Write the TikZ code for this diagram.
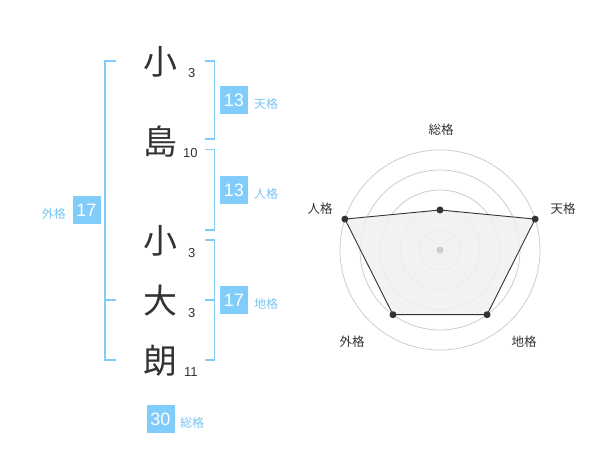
\documentclass[tikz,border=0pt]{standalone}
\usepackage{fontspec}
\usetikzlibrary{calc}
\setmainfont{Liberation Sans}
\newfontfamily\jp{Noto Sans CJK JP}
\definecolor{blu}{RGB}{128,204,250}
\definecolor{lbl}{RGB}{120,196,240}
\definecolor{ink}{RGB}{51,51,51}
\definecolor{ring}{RGB}{204,204,204}
\definecolor{area}{RGB}{240,240,240}
\tikzset{
  kanji/.style={font=\jp\fontsize{34}{34}\selectfont, text=ink, inner sep=0pt},
  strokes/.style={font=\fontsize{13}{13}\selectfont, text=ink, inner sep=0pt, anchor=west},
  box/.style={fill=blu, text=white, minimum size=28pt, inner sep=0pt, font=\fontsize{18}{18}\selectfont},
  lab/.style={font=\jp\fontsize{12}{12}\selectfont, text=lbl, inner sep=0pt},
  brk/.style={draw=blu, line width=1.5pt},
  radlab/.style={font=\jp\fontsize{12.5}{12.5}\selectfont, text=ink, inner sep=0pt},
  dot/.style={circle, fill=ink, minimum size=7pt, inner sep=0pt},
}
\begin{document}
\begin{tikzpicture}[x=1pt,y=-1pt]
\useasboundingbox (0,0) rectangle (600,470);
% name characters
\node[kanji] (c1) at (160,62) {小};
\node[kanji] (c2) at (160,142) {島};
\node[kanji] (c3) at (160,241) {小};
\node[kanji] (c4) at (160,301) {大};
\node[kanji] (c5) at (160,361) {朗};
\node[strokes] (n1) at (188,73) {3};
\node[strokes] (n2) at (183,153) {10};
\node[strokes] (n3) at (188,253) {3};
\node[strokes] (n4) at (188,313) {3};
\node[strokes] (n5) at (184,372) {11};
% brackets
\draw[brk] (116,61) -| (105,360) -- (116,360);
\draw[brk] (105,300) -- (116,300);
\draw[brk] (205,61) -| (214.5,139) -- (205,139);
\draw[brk] (205,149.5) -| (214.5,230) -- (205,230);
\draw[brk] (205,240) -| (214.5,360) -- (205,360);
\draw[brk] (205,300) -- (214.5,300);
% boxes
\node[box] (b1) at (234,100) {13};
\node[lab, anchor=west] (l1) at (254,104) {天格};
\node[box] (b2) at (234,190) {13};
\node[lab, anchor=west] (l2) at (254,194) {人格};
\node[box] (b3) at (234,300) {17};
\node[lab, anchor=west] (l3) at (254,304) {地格};
\node[box] (b4) at (86.5,210) {17};
\node[lab, anchor=east] (l4) at (66,214) {外格};
\node[box] (b5) at (160.5,419) {30};
\node[lab, anchor=west] (l5) at (180,422.5) {総格};
% radar chart
\coordinate (O) at (440,250);
\foreach \r in {20,40,60,80,100} \draw[ring, line width=0.8pt] (O) circle[radius=\r];
\coordinate (pS) at ($(O)+(0,-40)$);
\coordinate (pT) at ($(O)+(95.1,-30.9)$);
\coordinate (pC) at ($(O)+(47.0,64.7)$);
\coordinate (pG) at ($(O)+(-47.0,64.7)$);
\coordinate (pJ) at ($(O)+(-95.1,-30.9)$);
\draw[fill=area, fill opacity=0.85, draw=ink, line width=0.9pt] (pS) -- (pT) -- (pC) -- (pG) -- (pJ) -- cycle;
\node[circle, fill=ring, minimum size=7pt, inner sep=0pt] (ctr) at (O) {};
\node[dot] (dS) at (pS) {};
\node[dot] (dT) at (pT) {};
\node[dot] (dC) at (pC) {};
\node[dot] (dG) at (pG) {};
\node[dot] (dJ) at (pJ) {};
\node[radlab] (rS) at (441,130) {総格};
\node[radlab] (rT) at (563,209) {天格};
\node[radlab] (rJ) at (320,209) {人格};
\node[radlab] (rC) at (524,342) {地格};
\node[radlab] (rG) at (352,342) {外格};
\end{tikzpicture}
\end{document}
